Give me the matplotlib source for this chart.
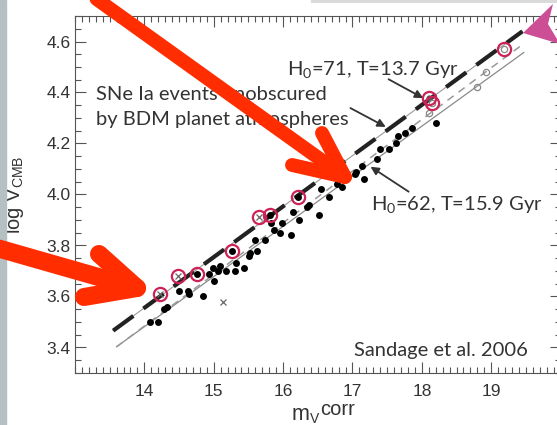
import matplotlib.pyplot as plt
from matplotlib.ticker import MultipleLocator
from matplotlib.patches import Rectangle, Polygon

# Type Ia supernova Hubble diagram: corrected V magnitude vs log CMB velocity
dot_m = [14.08, 14.20, 14.29, 14.32, 14.50, 14.63, 14.65, 14.84, 14.93, 14.99,
         15.00, 15.06, 15.09, 15.18, 15.30, 15.32, 15.43, 15.51, 15.52, 15.63,
         15.60, 15.74, 15.83, 15.87, 15.96, 15.98, 16.11, 16.14, 16.23, 16.35,
         16.38, 16.52, 16.54, 16.66, 16.77, 16.85, 16.90, 17.03, 17.05, 17.17,
         17.14, 17.36, 17.39, 17.52, 17.63, 17.65, 17.75, 17.86, 18.21,
         14.76, 15.27, 15.81, 16.21]
dot_logv = [3.50, 3.50, 3.55, 3.56, 3.62, 3.62, 3.61, 3.60, 3.69, 3.71,
            3.66, 3.70, 3.72, 3.70, 3.70, 3.73, 3.71, 3.76, 3.77, 3.78,
            3.82, 3.82, 3.89, 3.86, 3.85, 3.89, 3.84, 3.93, 3.90, 3.95,
            3.96, 3.92, 4.02, 3.99, 4.04, 4.03, 4.07, 4.08, 4.09, 4.06,
            4.11, 4.14, 4.18, 4.18, 4.20, 4.23, 4.24, 4.26, 4.28,
            3.69, 3.78, 3.92, 3.99]

cross_m = [14.23, 14.49, 15.65, 15.14]
cross_logv = [3.61, 3.68, 3.91, 3.58]

hollow_m = [18.15, 19.19, 18.11, 18.79, 18.93]
hollow_logv = [4.36, 4.57, 4.32, 4.42, 4.48]

gray_dot_m = [18.10]
gray_dot_logv = [4.38]

# unobscured events (ringed)
ring_m = [14.23, 14.49, 14.76, 15.27, 15.65, 15.81, 16.21, 18.10, 18.15, 19.19]
ring_logv = [3.61, 3.68, 3.69, 3.78, 3.91, 3.92, 3.99, 4.38, 4.36, 4.57]

# Hubble lines
h71_m = [13.55, 19.45]
h71_logv = [3.466, 4.640]
h62_m = [13.60, 19.47]
h62_logv = [3.403, 4.557]
h62b_m = [13.60, 19.45]
h62b_logv = [3.403, 4.588]

xticks = [14, 15, 16, 17, 18, 19]
yticks = [3.4, 3.6, 3.8, 4.0, 4.2, 4.4, 4.6]

tick_font = 'Liberation Sans'
note_font = 'Lato'
ink = '#333333'
W, H = 557, 425

fig = plt.figure(figsize=(5.57, 4.25), dpi=100)
fig.patches.append(Rectangle((0, 0), 6 / W, 1, transform=fig.transFigure,
                             color='#b4c0c2', zorder=0))

ax = fig.add_axes([75 / W, 52 / H, 485.6 / W, 357 / H])
ax.set_xlim(13, 20)
ax.set_ylim(3.3, 4.7)

ax.plot(h71_m, h71_logv, color='#9a9a9a', lw=0.8, zorder=2)
ax.plot(h71_m, h71_logv, color='#222222', lw=3, dashes=(6, 3), zorder=2)
ax.plot(h62_m, h62_logv, color='#8a8a8a', lw=0.9, zorder=2)
ax.plot(h62b_m, h62b_logv, color='#999999', lw=1.1, dashes=(5, 4), zorder=2)

ax.plot(dot_m, dot_logv, 'o', color='black', ms=5, mew=0, zorder=3)
ax.plot(gray_dot_m, gray_dot_logv, 'o', color='#555555', ms=4.5, mew=0, zorder=3)
ax.plot(cross_m, cross_logv, 'x', color='#666666', ms=4.5, mew=0.9, zorder=3)
ax.plot(hollow_m, hollow_logv, 'o', mfc='none', mec='#888888', ms=4.5, mew=0.9, zorder=3)
ax.plot(ring_m, ring_logv, 'o', mfc='none', mec='#cc2255', ms=9.5, mew=1.6, zorder=4)

ax.set_xticks(xticks)
ax.set_yticks(yticks)
ax.xaxis.set_minor_locator(MultipleLocator(0.1))
ax.yaxis.set_minor_locator(MultipleLocator(0.05))
ax.tick_params(which='both', direction='in', top=True, right=True,
               color='#555555', width=0.8)
ax.tick_params(which='major', length=8)
ax.tick_params(which='minor', length=4.5)
ax.tick_params(axis='x', pad=8)
ax.tick_params(axis='y', pad=3)
for lab in ax.get_xticklabels() + ax.get_yticklabels():
    lab.set_fontfamily(tick_font)
    lab.set_fontsize(12.5)
    lab.set_color(ink)
for sp in ax.spines.values():
    sp.set_color('#555555')
    sp.set_linewidth(0.8)

ax.set_ylabel(r'log V$_\mathregular{CMB}$', fontfamily=tick_font, fontsize=14.5, color=ink)
ax.yaxis.set_label_coords(-0.10, 0.5)

# x label built from pieces so the superscript keeps full size
fig.text(292 / W, (H - 420) / H, 'm', fontfamily=tick_font, fontsize=15.5,
         color=ink, va='baseline')
fig.text(310 / W, (H - 423) / H, 'V', fontfamily=tick_font, fontsize=10,
         color=ink, va='baseline')
fig.text(320 / W, (H - 415) / H, 'corr', fontfamily=tick_font, fontsize=14.5,
         color=ink, va='baseline')

ax.text(13.296, 4.370, 'SNe Ia events unobscured', fontfamily=note_font,
        fontsize=14.5, color=ink, va='baseline')
ax.text(13.296, 4.272, 'by BDM planet atmospheres', fontfamily=note_font,
        fontsize=14.5, color=ink, va='baseline')
ax.text(16.055, 4.464, r'H$_\mathregular{0}$=71, T=13.7 Gyr', fontfamily=note_font,
        fontsize=14.5, color=ink, va='baseline')
ax.text(17.26, 3.935, r'H$_\mathregular{0}$=62, T=15.9 Gyr', fontfamily=note_font,
        fontsize=14.5, color=ink, va='baseline')
ax.text(17.02, 3.368, 'Sandage et al. 2006', fontfamily=note_font,
        fontsize=14.5, color=ink, va='baseline')

arrow_kw = dict(arrowstyle='-|>', color=ink, lw=1.3, mutation_scale=12,
                shrinkA=0, shrinkB=0)
ax.annotate('', xy=(18.02, 4.378), xytext=(17.52, 4.452), arrowprops=arrow_kw)
ax.annotate('', xy=(17.48, 4.265), xytext=(16.97, 4.339), arrowprops=arrow_kw)
ax.annotate('', xy=(17.26, 4.109), xytext=(17.81, 4.011), arrowprops=arrow_kw)

# overlay in pixel units for the slide markings
ov = fig.add_axes([0, 0, 1, 1], zorder=10)
ov.set_xlim(0, W)
ov.set_ylim(H, 0)
ov.axis('off')
ov.patch.set_alpha(0)

ov.plot([312, 560], [1, 1], color='#dadada', lw=2.2)
ov.add_patch(Polygon([(523, 33), (553, 4), (548, 24), (560, 44)],
                     closed=True, color='#cc4f96', lw=0))

red = '#ff2d00'
ov.plot([84, 345], [-10, 177], color=red, lw=10, solid_capstyle='round')
ov.plot([322, 345, 292], [133, 177, 165], color=red, lw=10,
        solid_capstyle='round', solid_joinstyle='round')
ov.plot([-10, 137], [246, 288], color=red, lw=13, solid_capstyle='round')
ov.plot([99, 137, 84], [254, 288, 297], color=red, lw=13,
        solid_capstyle='round', solid_joinstyle='round')

fig.savefig('out.png', dpi=100)
